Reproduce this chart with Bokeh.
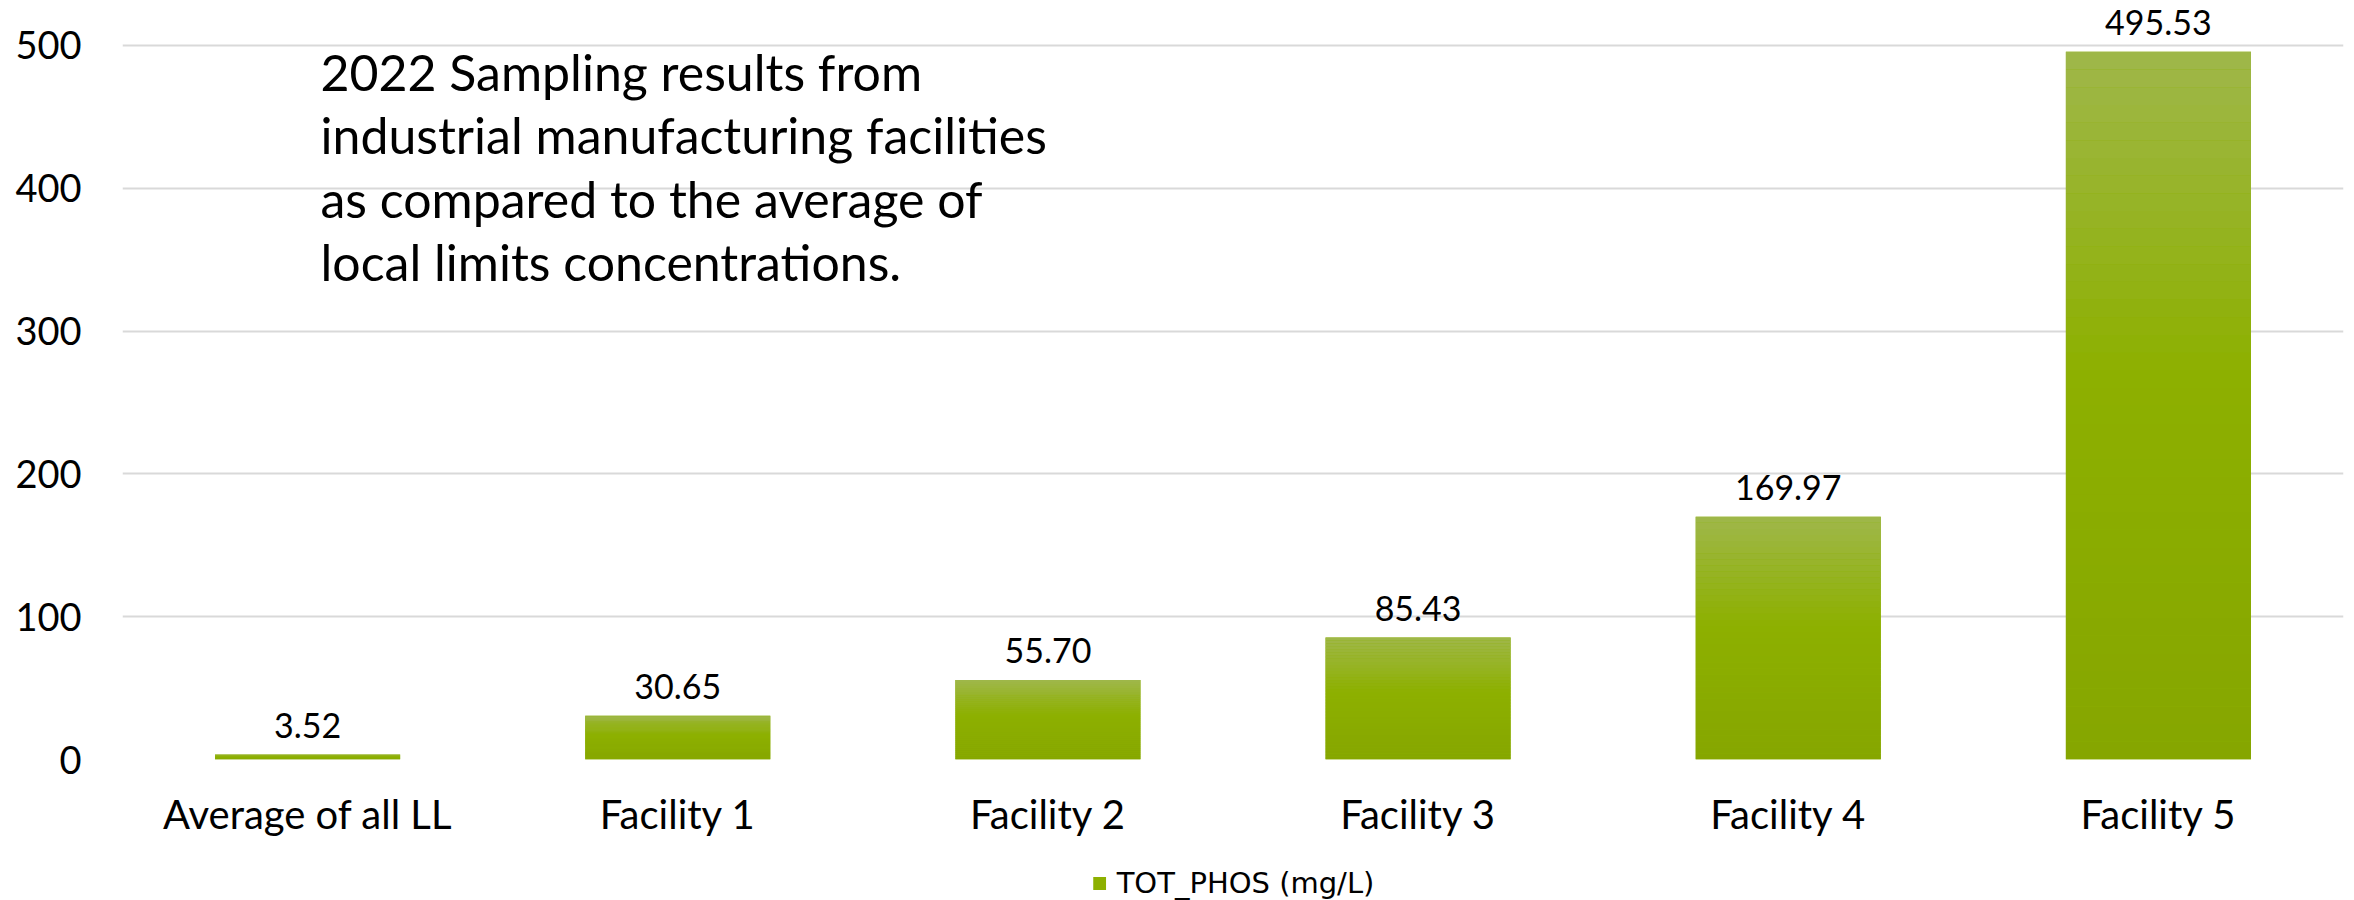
from bokeh.plotting import figure
from bokeh.layouts import column
from bokeh.models import (ColumnDataSource, FactorRange, Range1d, Label, LabelSet,
                          Legend, LegendItem)
from bokeh.embed import file_html
from bokeh.resources import INLINE
from bokeh.core.properties import value

# ---------------- data ----------------
categories = ["Average of all LL", "Facility 1", "Facility 2", "Facility 3", "Facility 4", "Facility 5"]
tot_phos = [3.52, 30.65, 55.70, 85.43, 169.97, 495.53]
value_labels = ["3.52", "30.65", "55.70", "85.43", "169.97", "495.53"]
y_ticks = [0, 100, 200, 300, 400, 500]
series_name = "TOT_PHOS (mg/L)"
title_lines = ["2022 Sampling results from",
               "industrial manufacturing facilities",
               "as compared to the average of",
               "local limits concentrations."]

# ---------------- styles ----------------
FONT = "Lato"
BASE_COLOR = "#8DB000"
N_SLICES = 40


def grad_color(f):
    # f: 0 at bar bottom, 1 at bar top
    bottom = (134, 166, 0)
    mid = (141, 176, 0)
    top = (159, 183, 74)
    if f < 0.55:
        t = f / 0.55
        c = [bottom[i] + (mid[i] - bottom[i]) * t for i in range(3)]
    else:
        t = (f - 0.55) / 0.45
        c = [mid[i] + (top[i] - mid[i]) * t for i in range(3)]
    return "#%02x%02x%02x" % tuple(int(round(v)) for v in c)


p = figure(width=2354, height=840,
           x_range=FactorRange(factors=categories, range_padding=0),
           y_range=Range1d(0, 525.9),
           output_backend="svg", toolbar_location=None,
           min_border_left=122, min_border_right=11,
           min_border_top=8, min_border_bottom=81)
p.outline_line_color = None
p.background_fill_color = "white"
p.border_fill_color = "white"

src = ColumnDataSource(dict(cat=categories, val=tot_phos, lab=value_labels))
base = p.vbar(x="cat", top="val", bottom=0, width=0.5, source=src,
              fill_color=BASE_COLOR, line_color=None)

# gradient overlay slices (fractions of each bar's own height)
for k in range(N_SLICES):
    f0 = k / N_SLICES
    f1 = (k + 1) / N_SLICES
    p.vbar(x=categories,
           bottom=[v * f0 for v in tot_phos],
           top=[v * f1 for v in tot_phos],
           width=0.5, fill_color=grad_color((f0 + f1) / 2), line_color=None)

# value labels
p.add_layout(LabelSet(x="cat", y="val", text="lab", source=src,
                      y_offset=29, text_align="center", text_baseline="middle",
                      text_font=value(FONT), text_font_size="34px", text_color="#000000"))

# axes
p.yaxis.ticker = y_ticks
p.yaxis.axis_line_color = None
p.yaxis.major_tick_line_color = None
p.yaxis.minor_tick_line_color = None
p.yaxis.major_tick_out = 0
p.yaxis.major_tick_in = 0
p.yaxis.major_label_standoff = 41
p.yaxis.major_label_text_font = FONT
p.yaxis.major_label_text_font_size = "38px"
p.yaxis.major_label_text_color = "#000000"

p.xaxis.axis_line_color = None
p.xaxis.major_tick_line_color = None
p.xaxis.major_tick_out = 0
p.xaxis.major_tick_in = 0
p.xaxis.major_label_standoff = 30
p.xaxis.major_label_text_font = FONT
p.xaxis.major_label_text_font_size = "40px"
p.xaxis.major_label_text_color = "#000000"

p.xgrid.grid_line_color = None
p.ygrid.grid_line_color = "#D9D9D9"
p.ygrid.grid_line_width = 2

# title text block
p.add_layout(Label(x=198, y=718, x_units="screen", y_units="screen",
                   text="\n".join(title_lines), text_baseline="top", text_align="left",
                   text_font=FONT, text_font_size="50px", text_line_height=1.06,
                   text_color="#000000"))

# ---------------- legend strip ----------------
pl = figure(width=2354, height=60, x_range=Range1d(0, 1), y_range=Range1d(0, 1),
            x_axis_type=None, y_axis_type=None,
            output_backend="svg", toolbar_location=None,
            min_border_left=30, min_border_right=0,
            min_border_top=26, min_border_bottom=0)
pl.outline_line_color = None
pl.grid.visible = False
pl.border_fill_color = "white"
# zero-height key bar: only used to draw the legend swatch
key = pl.vbar(x=[0.5], top=[0], bottom=[0], width=0.5,
              fill_color=BASE_COLOR, line_color=None)
legend = Legend(items=[LegendItem(label=series_name, renderers=[key], index=0)],
                location="center", orientation="horizontal",
                padding=0, margin=0, border_line_color=None,
                background_fill_alpha=0, glyph_width=16, glyph_height=16,
                label_standoff=10, label_text_font="DejaVu Sans",
                label_text_font_size="29px", label_text_color="#000000")
pl.add_layout(legend)

layout = column(p, pl, spacing=0)
open("out.html", "w").write(file_html(layout, INLINE))
